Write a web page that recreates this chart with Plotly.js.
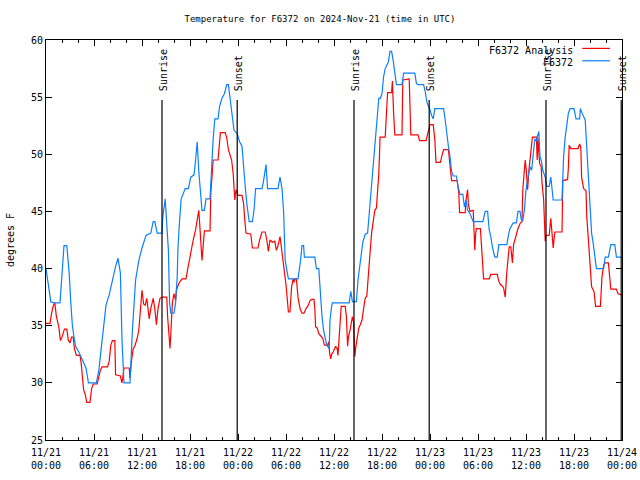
<!DOCTYPE html>
<html>
<head>
<meta charset="utf-8">
<script src="https://cdn.plot.ly/plotly-3.0.1.min.js"></script>
<style>html,body{margin:0;padding:0;background:#fff;}#chart{width:640px;height:480px;}</style>
</head>
<body>
<div id="chart"></div>
<script>
// Hours after 2024-11-21 00:00 UTC
const obsHours = [0.0,0.3,0.6,1.0,1.75,2.0,2.25,2.6,2.9,3.1,3.3,3.5,3.7,4.1,4.5,5.0,5.3,6.3,6.6,7.0,7.5,7.9,8.3,8.7,9.0,9.3,9.5,9.75,10.5,10.8,11.2,11.6,12.0,12.5,13.1,13.4,13.6,13.9,14.5,14.6,14.9,15.1,15.3,15.45,15.6,16.0,16.2,16.4,16.5,16.7,16.9,17.4,17.8,18.1,18.5,18.7,18.9,19.1,19.3,19.5,19.8,20.0,20.5,20.7,20.9,21.1,21.5,21.7,22.0,22.3,22.6,22.8,23.0,23.3,23.5,23.9,24.2,24.5,24.7,24.9,25.1,25.4,25.8,26.0,26.2,27.0,27.2,27.5,27.7,29.0,29.25,29.5,29.7,29.9,30.3,31.5,31.8,32.0,32.2,32.3,33.6,33.8,34.1,34.3,34.5,34.7,34.9,35.1,35.4,35.5,35.7,35.8,37.9,38.1,38.3,38.8,39.0,39.2,39.4,39.6,39.9,40.2,40.4,40.6,40.8,41.0,41.2,41.4,41.6,41.8,42.0,42.2,42.4,42.6,42.8,43.0,43.2,43.4,43.6,43.8,44.5,44.7,46.1,46.3,46.5,47.2,47.4,47.6,47.8,48.0,48.2,48.4,48.6,49.7,49.9,50.1,50.3,50.5,50.7,50.9,51.3,51.5,51.75,52.1,52.3,52.5,52.7,53.0,53.4,54.6,54.9,55.2,55.4,55.6,55.8,56.1,56.4,56.6,57.6,57.8,58.0,58.4,58.8,59.0,59.25,59.4,59.6,59.8,60.0,60.3,60.5,60.7,60.9,61.1,61.3,61.5,61.6,61.75,61.9,62.1,62.4,62.6,62.9,63.1,63.3,63.4,64.5,64.7,64.9,65.1,65.3,65.5,66.0,66.25,66.7,66.8,67.0,67.4,67.6,67.8,68.0,68.2,68.4,68.6,68.8,69.7,69.9,70.3,70.6,71.1,71.3,72.0];
const obsTemp = [40.0,38.5,37.1,37.0,37.0,39.5,42.0,42.0,39.6,37.0,35.0,34.0,33.2,32.7,32.0,31.3,30.0,30.0,31.1,33.7,36.8,37.7,39.0,40.2,40.9,39.6,33.7,30.0,30.0,34.6,39.0,40.7,41.8,42.9,43.1,44.1,44.1,43.1,43.1,44.5,46.1,44.0,41.6,37.0,36.1,36.1,37.0,39.3,41.9,44.2,46.1,47.0,47.0,48.0,48.2,49.5,51.1,48.5,46.3,45.1,45.1,46.1,46.1,48.9,51.4,53.1,53.1,54.2,54.9,55.3,56.1,56.1,55.0,53.6,52.1,51.8,51.1,50.7,48.6,47.2,45.7,44.1,44.1,45.1,47.0,47.0,47.7,49.1,47.0,47.0,48.0,47.0,45.0,40.7,39.1,39.1,40.6,42.0,42.0,41.0,41.0,40.0,40.0,37.8,35.8,34.6,34.0,33.3,33.0,35.5,36.7,37.0,37.0,38.0,37.1,37.1,39.0,40.3,41.5,42.3,43.0,43.1,44.8,46.6,48.3,49.5,51.8,53.6,54.9,54.9,55.3,56.8,57.5,57.8,58.1,59.0,59.0,58.2,56.9,56.1,56.1,57.1,57.1,56.2,56.1,56.1,55.5,54.6,54.2,53.9,53.4,53.1,54.0,54.0,53.0,51.5,50.7,49.8,48.5,48.1,48.1,47.2,46.5,46.5,45.4,46.0,45.1,44.8,44.1,44.1,45.0,45.0,43.4,42.8,41.9,41.0,41.0,42.1,42.1,42.9,43.5,44.0,44.0,45.0,45.0,44.3,44.2,45.1,46.9,48.2,48.9,48.6,49.7,51.3,51.2,51.7,52.0,49.8,49.5,48.6,48.0,47.2,47.2,48.0,46.1,46.0,46.0,49.8,51.5,52.7,53.6,54.0,54.0,53.1,53.1,54.0,53.6,53.0,50.7,47.5,45.1,43.1,42.2,41.3,40.0,40.0,41.0,41.0,42.1,42.1,41.0,41.0];

const anaHours = [0.0,0.5,0.7,0.9,1.1,1.3,1.6,1.8,2.0,2.3,2.6,2.8,3.0,3.2,3.4,3.55,3.8,4.25,4.4,4.7,4.9,5.0,5.1,5.5,5.7,5.9,6.4,6.6,6.8,7.0,7.7,7.9,8.1,8.3,8.6,8.7,9.3,9.5,9.75,10.4,10.5,10.7,10.9,11.1,11.4,11.6,11.8,12.0,12.2,12.4,12.6,12.9,13.1,13.4,13.6,13.8,14.0,14.25,14.5,15.1,15.2,15.35,15.5,15.6,15.8,16.0,16.2,16.3,16.6,17.0,17.5,17.7,17.9,18.1,18.4,18.7,19.0,19.1,19.25,19.4,19.5,19.8,20.5,20.6,20.75,20.9,21.5,21.65,21.8,22.4,22.6,22.8,23.0,23.2,23.4,23.6,23.75,24.0,24.5,24.7,24.85,25.0,25.6,25.8,26.5,26.7,27.0,27.4,27.6,27.8,28.0,28.3,28.6,28.8,29.0,29.25,29.4,29.6,29.8,30.0,30.3,30.5,30.7,30.9,31.0,31.1,31.3,31.5,31.75,32.0,32.25,32.5,32.8,33.0,33.2,33.5,33.6,33.7,33.9,34.1,34.4,34.6,34.8,35.2,35.35,35.45,35.6,35.7,35.9,36.2,36.4,36.5,36.6,36.8,36.9,37.4,37.55,37.7,37.8,38.0,38.2,38.3,38.45,38.6,38.7,38.9,39.1,39.3,39.5,39.7,39.9,40.1,40.3,40.5,40.7,40.9,41.1,41.3,41.45,41.6,41.7,41.75,42.4,42.6,42.7,43.2,43.3,43.45,43.6,44.5,44.6,45.4,45.6,46.5,46.7,47.5,47.7,47.9,48.0,48.4,48.6,48.75,49.3,49.5,49.7,50.3,50.5,50.6,50.7,51.4,51.6,51.7,52.4,52.5,52.7,52.8,53.0,53.4,53.6,53.7,53.8,54.3,54.5,54.7,55.4,55.6,56.4,56.6,56.8,57.0,57.2,57.4,57.6,57.75,57.9,58.1,58.3,58.45,58.7,59.0,59.3,59.5,59.6,59.75,59.9,60.05,60.2,60.35,60.5,60.7,60.8,61.3,61.4,61.5,61.7,61.9,62.0,62.2,62.3,62.4,62.5,62.9,63.1,63.25,63.4,63.6,64.5,64.6,65.2,65.3,65.4,65.6,66.5,66.7,66.85,66.95,67.2,67.5,67.6,67.8,68.0,68.2,68.5,68.7,69.3,69.5,69.7,69.9,70.3,70.5,70.6,71.3,71.5,72.0];
const anaTemp = [35.2,35.2,36.1,36.7,37.0,35.8,34.9,33.7,34.0,34.7,34.7,33.7,33.5,34.0,34.0,33.0,32.4,32.4,31.7,29.4,29.0,28.5,28.3,28.3,29.5,29.9,29.9,30.5,31.1,31.4,31.4,31.9,33.3,33.7,33.7,30.7,30.6,30.0,31.3,31.3,30.4,32.0,33.0,33.2,33.9,34.6,36.4,38.1,36.9,36.8,37.4,35.6,36.5,37.4,36.5,35.1,36.5,37.4,37.5,37.5,35.8,34.3,33.0,34.3,37.0,37.8,37.2,38.1,38.7,39.1,39.1,39.9,40.7,41.2,42.5,43.4,44.8,45.1,43.5,41.6,40.7,43.3,43.3,46.6,47.9,49.5,49.5,50.7,51.9,51.9,51.4,50.4,50.0,49.5,48.3,46.0,46.9,46.4,46.4,45.7,44.2,43.1,43.0,41.8,41.8,42.5,43.2,43.2,42.5,41.5,42.5,42.3,42.4,41.6,42.0,42.8,42.0,40.5,39.7,38.6,36.2,36.2,38.4,39.1,38.8,39.1,39.1,37.5,36.5,36.1,36.1,36.5,36.8,37.2,37.3,37.3,36.5,34.9,34.8,34.3,34.0,33.9,33.3,33.3,33.6,32.6,32.1,32.5,32.7,33.2,33.0,32.4,33.5,35.5,36.7,36.7,35.8,33.2,34.0,34.6,35.6,35.8,35.3,32.3,33.0,34.0,34.8,35.1,35.5,36.5,37.4,37.6,39.1,41.3,43.1,44.2,45.1,45.3,46.6,48.3,50.2,51.5,51.5,53.6,55.4,55.4,56.4,53.6,51.7,51.7,56.5,56.6,51.7,51.7,51.2,51.2,51.7,52.4,52.6,52.6,51.3,49.3,49.3,49.9,50.4,50.4,49.2,48.5,47.7,47.7,46.6,44.9,44.9,46.0,46.9,45.6,45.0,45.1,41.6,43.0,43.5,43.5,40.7,39.1,39.1,39.5,39.5,38.9,38.6,38.5,38.3,37.5,39.7,40.9,41.9,41.9,40.5,42.1,42.8,43.5,44.0,44.1,46.9,48.3,49.5,48.5,46.9,48.5,49.4,50.4,51.5,51.5,49.5,51.4,49.2,48.9,47.5,46.1,44.0,42.4,42.9,42.9,44.4,43.0,41.8,43.2,43.2,47.7,47.8,48.9,50.8,50.5,50.5,50.9,50.6,48.0,47.0,46.8,44.5,42.5,40.7,38.4,38.0,36.7,36.7,39.3,40.3,40.5,40.5,39.1,38.2,38.2,37.8,37.7];

const eventHours = [14.5, 23.9, 38.5, 47.9, 62.5, 71.9];
const eventNames = ["Sunrise", "Sunset", "Sunrise", "Sunset", "Sunrise", "Sunset"];
const seriesNames = ["F6372 Analysis", "F6372"];
const seriesColors = ["#ff0000", "#0a80ff"];

const base = Date.UTC(2024, 10, 21, 0, 0);
const H = 3600000;
const toMs = h => base + h * H;

const font = {family: "DejaVu Sans Mono, monospace", size: 9, color: "#000"};
const legFont = {family: "DejaVu Sans Mono, monospace", size: 10, color: "#000"};

const traces = [
  {x: anaHours.map(toMs), y: anaTemp, type: "scatter", mode: "lines", name: seriesNames[0],
   line: {color: seriesColors[0], width: 1.2}, showlegend: false},
  {x: obsHours.map(toMs), y: obsTemp, type: "scatter", mode: "lines", name: seriesNames[1],
   line: {color: seriesColors[1], width: 1.2}, showlegend: false}
];

const shapes = eventHours.map(h => ({
  type: "line", xref: "x", yref: "y", x0: toMs(h), x1: toMs(h), y0: 25, y1: 54.75,
  line: {color: "#000", width: 1.2}
}));
const annotations = eventHours.map((h, i) => ({
  x: toMs(h), y: 55.35, xref: "x", yref: "y", text: eventNames[i], textangle: -90,
  showarrow: false, xanchor: "center", yanchor: "bottom", xshift: 1, font: legFont
}));

// legend (gnuplot style: text then sample line)
const legY = [0.975, 0.944];
seriesNames.forEach((n, i) => {
  annotations.push({x: 0.918, y: legY[i], xref: "paper", yref: "paper", text: n,
    showarrow: false, xanchor: "right", yanchor: "middle", font: legFont});
  shapes.push({type: "line", xref: "paper", yref: "paper", x0: 0.931, x1: 0.979,
    y0: legY[i] + 0.004, y1: legY[i] + 0.004, line: {color: seriesColors[i], width: 1.2}});
});

const layout = {
  width: 640, height: 480,
  margin: {l: 46, r: 18, t: 40, b: 40, pad: 0},
  paper_bgcolor: "#fff", plot_bgcolor: "#fff",
  font: font,
  title: {text: "Temperature for F6372 on 2024-Nov-21 (time in UTC)", font: font,
          x: 0.5, xanchor: "center", y: 0.96, yanchor: "middle"},
  xaxis: {
    type: "date", range: [toMs(0), toMs(72)],
    tick0: toMs(0), dtick: 6 * H, tickformat: "%m/%d<br>%H:%M",
    ticks: "inside", ticklen: 6, tickcolor: "#000", tickwidth: 1,
    ticklabelstandoff: 3,
    minor: {dtick: 2 * H, ticks: "inside", ticklen: 3, tickcolor: "#000"},
    showline: true, linecolor: "#000", linewidth: 1, mirror: "ticks",
    showgrid: false, zeroline: false, tickfont: legFont
  },
  yaxis: {
    range: [25, 60], dtick: 5, tick0: 25,
    ticks: "inside", ticklen: 6, tickcolor: "#000", tickwidth: 1,
    showline: true, linecolor: "#000", linewidth: 1, mirror: "ticks",
    showgrid: false, zeroline: false, tickfont: legFont,
    title: {text: "degrees F", font: legFont, standoff: 14}
  },
  shapes: shapes,
  annotations: annotations
};

Plotly.newPlot("chart", traces, layout, {staticPlot: true});
</script>
</body>
</html>
